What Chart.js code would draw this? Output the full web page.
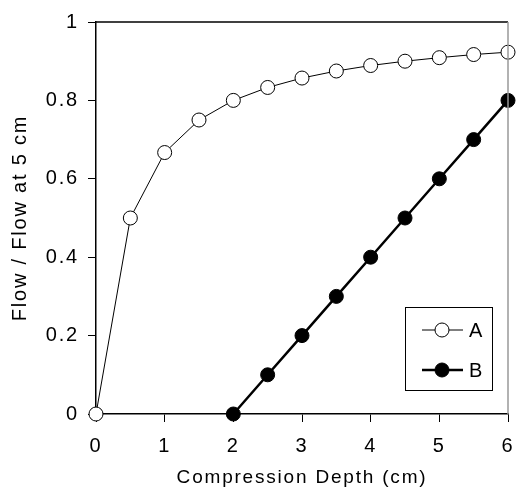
<!DOCTYPE html>
<html><head><meta charset="utf-8">
<script src="https://cdn.jsdelivr.net/npm/chart.js@4/dist/chart.umd.min.js"></script>
<style>html,body{margin:0;padding:0;background:#fff}#wrap{width:516px;height:491px}</style>
</head><body><div id="wrap"><canvas id="c" width="516" height="491"></canvas></div>
<script>
const depthA = [0, 0.5, 1, 1.5, 2, 2.5, 3, 3.5, 4, 4.5, 5, 5.5, 6];
const flowA = [0, 0.5, 0.667, 0.75, 0.8, 0.833, 0.857, 0.875, 0.889, 0.9, 0.909, 0.917, 0.923];
const depthB = [2, 2.5, 3, 3.5, 4, 4.5, 5, 5.5, 6];
const flowB = [0, 0.1, 0.2, 0.3, 0.4, 0.5, 0.6, 0.7, 0.8];
const seriesNames = ['A', 'B'];
const xTicks = [0, 1, 2, 3, 4, 5, 6];
const yTicks = [0, 0.2, 0.4, 0.6, 0.8, 1];

const FONT = 'Liberation Sans, Arial, sans-serif';
const SPACING = '1.8px';

const spacingPlugin = {
  id: 'spacing',
  beforeLayout(chart) { chart.ctx.letterSpacing = SPACING; },
  beforeDraw(chart) { chart.ctx.letterSpacing = SPACING; }
};

const legendPlugin = {
  id: 'boxLegend',
  afterDraw(chart) {
    const ctx = chart.ctx;
    const x0 = 405, y0 = 307, w = 87, h = 83;
    ctx.save();
    ctx.strokeStyle = '#000'; ctx.lineWidth = 1;
    ctx.strokeRect(x0 + 0.5, y0 + 0.5, w, h);
    ctx.font = '20px ' + FONT;
    ctx.textBaseline = 'middle';
    chart.data.datasets.forEach((ds, i) => {
      const cy = y0 + 23 + i * 40;
      ctx.strokeStyle = '#000';
      ctx.beginPath();
      ctx.lineWidth = ds.borderWidth;
      ctx.moveTo(x0 + 17, cy); ctx.lineTo(x0 + 58, cy); ctx.stroke();
      ctx.beginPath();
      ctx.arc(x0 + 37, cy, 7, 0, Math.PI * 2);
      ctx.fillStyle = ds.pointBackgroundColor; ctx.fill();
      ctx.lineWidth = 1; ctx.stroke();
      ctx.fillStyle = '#000';
      ctx.fillText(ds.label, x0 + 64, cy + 1);
    });
    ctx.restore();
  }
};

const borderPlugin = {
  id: 'frame',
  afterDatasetsDraw(chart) {
    const a = chart.chartArea, ctx = chart.ctx;
    ctx.save();
    ctx.lineWidth = 1.5;
    ctx.strokeStyle = '#000';
    ctx.beginPath(); ctx.moveTo(a.left, a.top); ctx.lineTo(a.right, a.top); ctx.stroke();
    ctx.strokeStyle = '#999';
    ctx.beginPath(); ctx.moveTo(a.right, a.top); ctx.lineTo(a.right, a.bottom); ctx.stroke();
    ctx.restore();
  }
};

new Chart(document.getElementById('c'), {
  type: 'line',
  data: {
    datasets: [
      { label: seriesNames[0], data: depthA.map((x, i) => ({ x, y: flowA[i] })),
        borderColor: '#000', borderWidth: 1, pointRadius: 7, pointBorderWidth: 1,
        pointBackgroundColor: '#fff', pointBorderColor: '#000', tension: 0, clip: false },
      { label: seriesNames[1], data: depthB.map((x, i) => ({ x, y: flowB[i] })),
        borderColor: '#000', borderWidth: 2.5, pointRadius: 7, pointBorderWidth: 1,
        pointBackgroundColor: '#000', pointBorderColor: '#000', tension: 0, clip: false }
    ]
  },
  options: {
    responsive: false, animation: false,
    layout: { padding: { left: 0, right: 7, top: 22, bottom: 0 } },
    plugins: { legend: { display: false }, tooltip: { enabled: false } },
    elements: { point: { hoverRadius: 7 } },
    scales: {
      x: {
        type: 'linear', min: 0, max: 6,
        afterBuildTicks: s => { s.ticks = xTicks.map(v => ({ value: v })); },
        afterFit: s => { s.height = 77; s.paddingLeft = 0; s.paddingRight = 0; },
        grid: { display: true, drawOnChartArea: false, drawTicks: true, tickLength: 8, color: '#000', tickColor: '#000' },
        border: { display: true, color: '#000', width: 1.5 },
        ticks: { color: '#000', font: { family: FONT, size: 20 }, padding: 12, maxRotation: 0 },
        title: { display: true, text: 'Compression Depth (cm)', color: '#000', font: { family: FONT, size: 19 }, padding: { top: 4, bottom: 2 } }
      },
      y: {
        type: 'linear', min: 0, max: 1,
        afterBuildTicks: s => { s.ticks = yTicks.map(v => ({ value: v })); },
        afterFit: s => { s.width = 96; s.paddingTop = 0; s.paddingBottom = 0; },
        grid: { display: true, drawOnChartArea: false, drawTicks: true, tickLength: 8, color: '#000', tickColor: '#000' },
        border: { display: true, color: '#000', width: 1.5 },
        ticks: { color: '#000', font: { family: FONT, size: 20 }, padding: 9, callback: v => String(v) },
        title: { display: true, text: 'Flow / Flow at 5 cm', color: '#000', font: { family: FONT, size: 20 }, padding: { top: 8, bottom: 4 } }
      }
    }
  },
  plugins: [spacingPlugin, legendPlugin, borderPlugin]
});
</script>
</body></html>
